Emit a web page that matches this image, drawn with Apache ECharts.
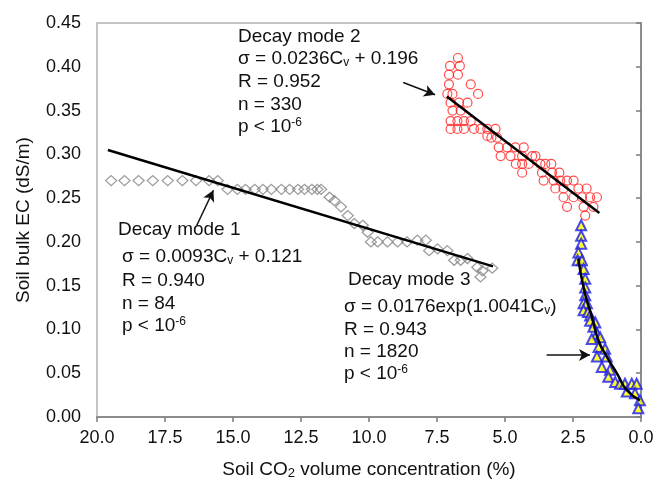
<!doctype html>
<html lang="en">
<head>
    <meta charset="UTF-8">
    <title>Soil bulk EC vs CO2</title>
    <script type="text/javascript" src="https://cdn.jsdelivr.net/npm/echarts@6/dist/echarts.min.js"></script>
    <style>
        html, body { margin: 0; padding: 0; background: #fff; }
    </style>
</head>
<body>
    <div id="main" style="width: 659px;height:486px;"></div>
</body>
<script type="text/javascript">
    // 数据 (CO2 %, EC dS/m) 从图上读出
    var mode1Cv = [19.48, 18.99, 18.47, 17.95, 17.40, 16.86, 16.36, 15.88, 15.56,
        15.2, 14.84, 14.54, 14.2, 13.9, 13.59, 13.22, 12.92, 12.61, 12.37, 12.1, 11.9, 11.76,
        11.45, 11.27, 11.03, 10.78, 10.54, 10.23, 10.05, 9.93, 9.68, 9.32, 8.95, 8.6, 8.22, 7.91,
        7.79, 7.48, 7.12, 6.87, 6.63, 6.38, 6.02, 5.83, 5.47, 5.90];
    var mode1Ec = [0.27, 0.27, 0.27, 0.27, 0.27, 0.27, 0.27, 0.27, 0.27,
        0.26, 0.26, 0.26, 0.26, 0.26, 0.26, 0.26, 0.26, 0.26, 0.26, 0.26, 0.26, 0.26,
        0.251, 0.247, 0.240, 0.230, 0.221, 0.219, 0.211, 0.200, 0.200, 0.200, 0.200, 0.200, 0.202, 0.202,
        0.190, 0.192, 0.190, 0.179, 0.179, 0.181, 0.171, 0.167, 0.170, 0.160];

    var mode2Cv = [6.73, 7.02, 6.66, 7.06, 6.73, 7.06, 6.26, 5.99, 7.12, 6.93, 7.0, 6.69, 6.38,
        6.93, 6.63, 7.0, 6.75, 6.51, 6.26, 7.0, 6.75, 6.51, 6.14, 5.90, 5.65, 5.35, 5.65, 5.29, 5.5,
        5.23, 4.92, 4.62, 4.31, 5.16, 4.8, 4.37, 4.0, 3.88, 4.37, 4.13, 3.70, 3.52, 4.6, 3.3,
        4.37, 3.64, 3.27, 3.0, 3.58, 3.21, 2.97, 2.72, 2.48, 3.15, 2.85, 2.3, 2.0,
        2.85, 2.48, 2.17, 1.87, 1.62, 2.72, 2.11, 1.75, 2.05];
    var mode2Ec = [0.410, 0.401, 0.401, 0.391, 0.391, 0.380, 0.380, 0.369, 0.369, 0.369, 0.359, 0.359, 0.359,
        0.350, 0.350, 0.338, 0.338, 0.338, 0.338, 0.329, 0.329, 0.329, 0.329, 0.329, 0.329, 0.329, 0.321, 0.319, 0.319,
        0.308, 0.308, 0.308, 0.308, 0.298, 0.298, 0.298, 0.298, 0.298, 0.289, 0.289, 0.289, 0.289, 0.289, 0.289,
        0.279, 0.279, 0.279, 0.279, 0.270, 0.270, 0.270, 0.270, 0.270, 0.261, 0.261, 0.261, 0.261,
        0.251, 0.251, 0.251, 0.251, 0.251, 0.240, 0.240, 0.240, 0.230];

    var mode3Cv = [2.20, 2.20, 2.20, 2.30, 2.33, 2.17, 2.11, 2.05, 2.05, 2.05, 2.11, 1.99, 2.11, 1.95,
        1.87, 1.87, 1.68, 1.75, 1.62, 1.50, 1.81, 1.56, 1.32, 1.62, 1.26, 1.44, 1.14, 1.20, 0.95,
        0.77, 0.59, 0.34, 0.16, 0.52, 0.22, 0.04, 0.10];
    var mode3Ec = [0.219, 0.207, 0.198, 0.188, 0.179, 0.179, 0.169, 0.158, 0.148, 0.139, 0.130, 0.130, 0.122, 0.120,
        0.116, 0.110, 0.108, 0.103, 0.095, 0.091, 0.089, 0.080, 0.078, 0.069, 0.069, 0.057, 0.054, 0.046, 0.040,
        0.038, 0.038, 0.038, 0.038, 0.029, 0.027, 0.019, 0.010];

    // 拟合线
    var fit1Cv = [19.6, 5.44];
    var fit1Ec = [0.305, 0.172];
    var fit2Cv = [7.14, 1.53];
    var fit2Ec = [0.366, 0.233];
    var fit3Cv = [2.31, 2.06, 1.81, 1.57, 1.26, 0.89, 0.53, 0.04];
    var fit3Ec = [0.181, 0.141, 0.115, 0.088, 0.069, 0.050, 0.031, 0.019];

    // 箭头 [x1, y1, x2, y2]
    var arrows = [
        [16.33, 0.219, 15.72, 0.259],
        [8.74, 0.382, 7.57, 0.368],
        [3.47, 0.0708, 1.875, 0.0708]
    ];

    var xTicks = ['20.0', '17.5', '15.0', '12.5', '10.0', '7.5', '5.0', '2.5', '0.0'];

    function pairs(xs, ys) {
        var out = [];
        for (var i = 0; i < xs.length; i++) out.push([xs[i], ys[i]]);
        return out;
    }

    var font = 'Liberation Sans, Arial, sans-serif';
    var rich = {
        n: { fontSize: 19, fontFamily: font, color: '#111' },
        sub: { fontSize: 12, fontFamily: font, color: '#111', padding: [8, 0, 0, 0] },
        sup: { fontSize: 12, fontFamily: font, color: '#111', padding: [0, 0, 8, 0] }
    };

    // 注释文字
    function textLine(x, y, txt) {
        return {
            type: 'text', left: x, top: y,
            style: { text: txt, rich: rich, font: '19px ' + font, fill: '#111' }
        };
    }
    var notes = [
        [118, 220, '{n|Decay mode 1}'],
        [122, 247, '{n|σ = 0.0093C}{sub|v}{n| + 0.121}'],
        [122, 271, '{n|R = 0.940}'],
        [122, 294, '{n|n = 84}'],
        [122, 316, '{n|p < 10}{sup|-6}'],
        [238, 27, '{n|Decay mode 2}'],
        [238, 49, '{n|σ = 0.0236C}{sub|v}{n| + 0.196}'],
        [238, 72, '{n|R = 0.952}'],
        [238, 95, '{n|n = 330}'],
        [238, 117, '{n|p < 10}{sup|-6}'],
        [348, 270, '{n|Decay mode 3}'],
        [344, 297, '{n|σ = 0.0176exp(1.0041C}{sub|v}{n|)}'],
        [344, 320, '{n|R = 0.943}'],
        [344, 342, '{n|n = 1820}'],
        [344, 364, '{n|p < 10}{sup|-6}']
    ];
    var graphics = [];
    for (var i = 0; i < notes.length; i++) {
        graphics.push(textLine(notes[i][0], notes[i][1], notes[i][2]));
    }

    var arrowData = [];
    for (var j = 0; j < arrows.length; j++) {
        arrowData.push([{ coord: [arrows[j][0], arrows[j][1]] }, { coord: [arrows[j][2], arrows[j][3]] }]);
    }

    var myChart = echarts.init(document.getElementById('main'));
    myChart.setOption({
        animation: false,
        textStyle: { fontFamily: font },
        grid: {
            left: 97, right: 18, top: 23, bottom: 69,
            show: true, borderColor: '#c4c4c4', borderWidth: 2
        },
        xAxis: {
            type: 'value', inverse: true, min: 0, max: 20, interval: 2.5,
            name: 'Soil CO{s|2} volume concentration (%)',
            nameLocation: 'middle', nameGap: 42,
            nameTextStyle: {
                fontSize: 19, color: '#111', fontFamily: font,
                rich: {
                    s: { fontSize: 13, color: '#111', fontFamily: font, padding: [8, 0, 0, 0] }
                }
            },
            axisLine: { lineStyle: { color: '#7a7a7a', width: 1.5 } },
            axisTick: { inside: false, length: 5, lineStyle: { color: '#7a7a7a', width: 1.5 } },
            axisLabel: {
                fontSize: 18, color: '#111', margin: 12,
                formatter: function (v) { return xTicks[8 - Math.round(v / 2.5)]; }
            },
            splitLine: { show: false }
        },
        yAxis: {
            type: 'value', min: 0, max: 0.45, interval: 0.05,
            name: 'Soil bulk EC (dS/m)',
            nameLocation: 'middle', nameGap: 64,
            nameTextStyle: { fontSize: 19, color: '#111', fontFamily: font },
            axisLine: { show: true, lineStyle: { color: '#7a7a7a', width: 1.5 } },
            axisTick: { show: true, inside: false, length: 5, lineStyle: { color: '#7a7a7a', width: 1.5 } },
            axisLabel: {
                fontSize: 18, color: '#111', margin: 16,
                formatter: function (v) { return v.toFixed(2); }
            },
            splitLine: { show: false }
        },
        graphic: graphics,
        series: [
            {
                name: 'Decay mode 1', type: 'scatter',
                symbol: 'diamond', symbolSize: [11, 10],
                itemStyle: { color: 'rgba(255,255,255,0)', borderColor: '#858585', borderWidth: 1.3 },
                data: pairs(mode1Cv, mode1Ec)
            },
            {
                name: 'Decay mode 2', type: 'scatter',
                symbol: 'circle', symbolSize: 9,
                itemStyle: { color: 'rgba(255,255,255,0)', borderColor: '#ff2020', borderWidth: 1.2 },
                data: pairs(mode2Cv, mode2Ec)
            },
            {
                name: 'Decay mode 3', type: 'scatter',
                symbol: 'triangle', symbolSize: 10,
                itemStyle: { color: '#ffff00', borderColor: '#1c1cf0', borderWidth: 2 },
                data: pairs(mode3Cv, mode3Ec)
            },
            {
                name: 'fit1', type: 'line', showSymbol: false, z: 5,
                lineStyle: { color: '#000', width: 2.5 },
                data: pairs(fit1Cv, fit1Ec)
            },
            {
                name: 'fit2', type: 'line', showSymbol: false, z: 5,
                lineStyle: { color: '#000', width: 2.5 },
                data: pairs(fit2Cv, fit2Ec)
            },
            {
                name: 'fit3', type: 'line', showSymbol: false, smooth: true, z: 5,
                lineStyle: { color: '#000', width: 2.5 },
                data: pairs(fit3Cv, fit3Ec),
                markLine: {
                    silent: true,
                    symbol: ['none', 'arrow'], symbolSize: [9, 11],
                    label: { show: false },
                    lineStyle: { color: '#111', width: 1.5, type: 'solid' },
                    data: arrowData
                }
            }
        ]
    });
</script>
</html>
